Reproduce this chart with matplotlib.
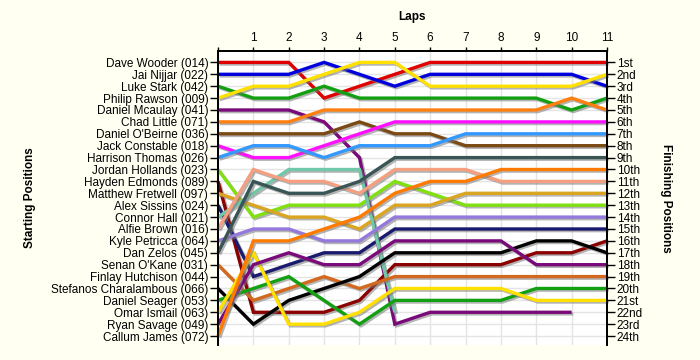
import numpy as np
import matplotlib
matplotlib.use("Agg")
import matplotlib.pyplot as plt
import matplotlib.patheffects as pe

nan = np.nan

drivers = ["Dave Wooder (014)", "Jai Nijjar (022)", "Luke Stark (042)", "Philip Rawson (009)",
           "Daniel Mcaulay (041)", "Chad Little (071)", "Daniel O'Beirne (036)", "Jack Constable (018)",
           "Harrison Thomas (026)", "Jordan Hollands (023)", "Hayden Edmonds (089)", "Matthew Fretwell (097)",
           "Alex Sissins (024)", "Connor Hall (021)", "Alfie Brown (016)", "Kyle Petricca (064)",
           "Dan Zelos (045)", "Senan O'Kane (031)", "Finlay Hutchison (044)", "Stefanos Charalambous (066)",
           "Daniel Seager (053)", "Omar Ismail (063)", "Ryan Savage (049)", "Callum James (072)"]

finish_labels = ["1st", "2nd", "3rd", "4th", "5th", "6th", "7th", "8th", "9th", "10th", "11th", "12th",
                 "13th", "14th", "15th", "16th", "17th", "18th", "19th", "20th", "21st", "22nd", "23rd", "24th"]

laps = list(range(12))

# positions at laps 0..11 for each driver
positions = [
    [1, 1, 1, 4, 3, 2, 1, 1, 1, 1, 1, 1],
    [2, 2, 2, 1, 2, 3, 2, 2, 2, 2, 2, 3],
    [3, 4, 4, 3, 4, 4, 4, 4, 4, 4, 5, 4],
    [4, 3, 3, 2, 1, 1, 3, 3, 3, 3, 3, 2],
    [5, 5, 5, 6, 9, 23, 22, 22, 22, 22, 22, nan],
    [6, 6, 6, 5, 5, 5, 5, 5, 5, 5, 4, 5],
    [7, 7, 7, 7, 6, 7, 7, 8, 8, 8, 8, 8],
    [8, 9, 9, 8, 7, 6, 6, 6, 6, 6, 6, 6],
    [9, 8, 8, 9, 8, 8, 8, 7, 7, 7, 7, 7],
    [10, 14, 13, 13, 13, 11, 12, 13, 13, 13, 13, 13],
    [11, 22, 22, 22, 21, 18, 18, 18, 18, 17, 17, 16],
    [12, 13, 14, 14, 15, 13, 13, 12, 12, 12, 12, 12],
    [13, 19, 18, 17, 17, 15, 15, 15, 15, 15, 15, 15],
    [14, 12, 10, 10, 10, 22, nan, nan, nan, nan, nan, nan],
    [15, 10, 11, 11, 12, 10, 10, 10, 11, 11, 11, 11],
    [16, 15, 15, 16, 16, 14, 14, 14, 14, 14, 14, 14],
    [17, 11, 12, 12, 11, 9, 9, 9, 9, 9, 9, 9],
    [18, 21, 20, 19, 20, 19, 19, 19, 19, 19, 19, 19],
    [nan] * 12,
    [20, 23, 21, 20, 19, 17, 17, 17, 17, 16, 16, 17],
    [21, 20, 19, 21, 23, 21, 21, 21, 21, 20, 20, 20],
    [22, 17, 23, 23, 22, 20, 20, 20, 20, 21, 21, 21],
    [23, 18, 17, 18, 18, 16, 16, 16, 16, 18, 18, 18],
    [24, 16, 16, 15, 14, 12, 11, 11, 10, 10, 10, 10],
]

colors = ["#E00000", "#0000DD", "#12A012", "#FFE000", "#7A0A7A", "#FF8010",
          "#7B4A14", "#FF10FF", "#3399FF", "#80E010", "#8B0000", "#DAA520",
          "#1A1A6E", "#70C8A8", "#F4A080", "#9478DC", "#3A5555", "#D2691E",
          "#000000", "#000000", "#12A012", "#FFE000", "#7A0A7A", "#FF7A00"]

plt.rcParams['font.family'] = ['Liberation Sans', 'DejaVu Sans']

fig = plt.figure(figsize=(7, 3.6), dpi=100, facecolor="#FFFFF2")
ax = fig.add_axes([218 / 700, 1 - 345 / 360, (607 - 218) / 700, (345 - 50.5) / 360])
ax.set_facecolor("white")

shadow = [pe.SimpleLineShadow(offset=(1.2, -1.2), shadow_color="#777777", alpha=0.55), pe.Normal()]
for pos, c in zip(positions, colors):
    ax.plot(laps, pos, color=c, lw=2.4, solid_joinstyle="miter", solid_capstyle="butt",
            path_effects=shadow, zorder=3, clip_on=False)

ax.set_xlim(0, 11)
ax.set_ylim(24.75, 0)

ax.set_xticks(range(12))
ax.set_xticklabels([""] + [str(i) for i in range(1, 12)])
ax.xaxis.tick_top()
ax.set_yticks(range(1, 25))
ax.set_yticklabels(drivers)
ax.tick_params(axis="x", top=True, bottom=False, length=3, width=1, labelsize=8.5, pad=2, colors="black")
ax.tick_params(axis="y", left=True, length=6, width=1, labelsize=8.5, pad=1)

ax2 = ax.twinx()
ax2.set_ylim(24.75, 0)
ax2.set_yticks(range(1, 25))
ax2.set_yticklabels(finish_labels)
ax2.tick_params(axis="y", right=True, length=6, width=1, labelsize=8.5, pad=1)

for a in (ax, ax2):
    for s in ["left", "right", "top"]:
        a.spines[s].set_linewidth(1.3)
    a.spines["bottom"].set_visible(False)

ax.grid(True, color="#E4E4E4", lw=1)
ax.set_axisbelow(True)

fig.text(412 / 700, 1 - 17 / 360, "Laps", ha="center", va="center", fontsize=8.5, fontweight="bold")
fig.text(30 / 700, 1 - 198 / 360, "Starting Positions", ha="center", va="center", rotation=90,
         fontsize=8.5, fontweight="bold")
fig.text(666 / 700, 1 - 198 / 360, "Finishing Positions", ha="center", va="center", rotation=-90,
         fontsize=8.5, fontweight="bold")

fig.savefig("out.png", dpi=100, facecolor=fig.get_facecolor())
